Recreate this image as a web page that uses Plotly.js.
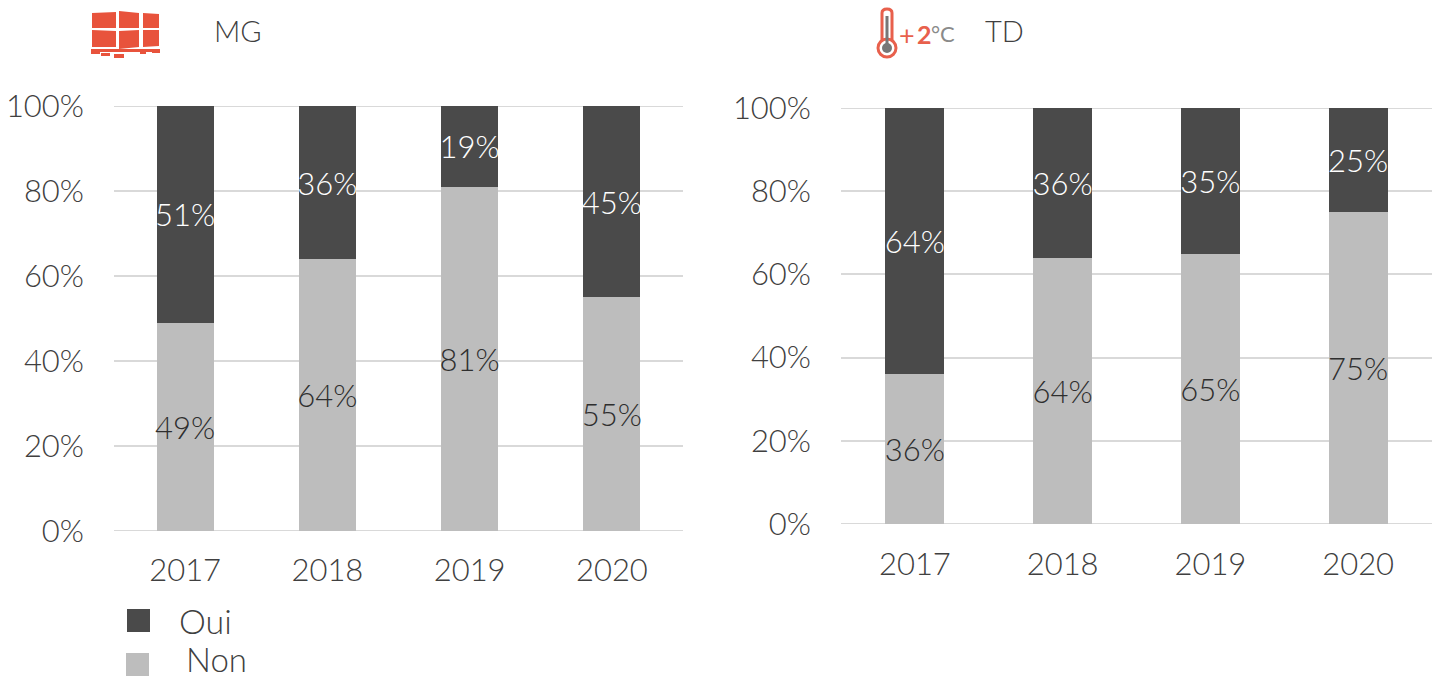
<!DOCTYPE html>
<html><head><meta charset="utf-8">
<script src="https://cdn.plot.ly/plotly-3.0.0.min.js"></script>
<style>html,body{margin:0;padding:0;background:#fff}#c{width:1439px;height:679px}</style>
</head><body><div id="c"></div>
<script>
const years = ['2017','2018','2019','2020'];
const mgOui = [51,36,19,45];
const mgNon = [49,64,81,55];
const tdOui = [64,36,35,25];
const tdNon = [36,64,65,75];
const tickVals = [0,20,40,60,80,100];
const tickText = ['0%','20%','40%','60%','80%','100%'];
const W=1439,H=679;
const dark='#4a4a4a', light='#bdbdbd', txt='#404040', red='#e8533c', grid='#d9d9d9';
const font='Lato, sans-serif';
const fz=31;
function bar(x,y,color,tcolor,xa,ya,name){
  return {type:'bar',x:x,y:y,name:name,xaxis:xa,yaxis:ya,showlegend:false,
    marker:{color:color,line:{width:0}},width:0.4,
    text:y.map(v=>v+'%'),textposition:'inside',insidetextanchor:'middle',constraintext:'none',textangle:0,
    textfont:{color:tcolor,size:fz,family:font,weight:300},hoverinfo:'skip'};
}
const data=[
  bar(years,mgNon,light,'#2e2e2e','x','y','Non'),
  bar(years,mgOui,dark,'#ffffff','x','y','Oui'),
  bar(years,tdNon,light,'#2e2e2e','x2','y2','Non'),
  bar(years,tdOui,dark,'#ffffff','x2','y2','Oui')
];
function xaxis(l,r,anchor,st){return {domain:[l/W,r/W],anchor:anchor,type:'category',showgrid:false,zeroline:false,showline:false,ticks:'',
  tickfont:{size:fz,color:txt,family:font,weight:300},ticklabelstandoff:st};}
function yaxis(t,b,anchor){return {domain:[1-b/H,1-t/H],anchor:anchor,range:[0,100],tickvals:tickVals,ticktext:tickText,
  showgrid:true,gridcolor:grid,gridwidth:2,zeroline:false,showline:false,ticks:'',
  tickfont:{size:fz,color:txt,family:font,weight:300},ticklabelstandoff:29};}
function px(x){return x/W} function py(y){return 1-y/H}
function poly(pts,fill){return {type:'path',xref:'paper',yref:'paper',fillcolor:fill,line:{width:0},
  path:'M'+pts.map(p=>px(p[0])+','+py(p[1])).join('L')+'Z'};}
function rect(x0,y0,x1,y1,fill,lc,lw){return {type:'rect',xref:'paper',yref:'paper',x0:px(x0),x1:px(x1),y0:py(y0),y1:py(y1),fillcolor:fill,line:lc?{color:lc,width:lw}:{width:0}};}
function circ(cx,cy,r,fill,lc,lw){return {type:'circle',xref:'paper',yref:'paper',x0:px(cx-r),x1:px(cx+r),y0:py(cy-r),y1:py(cy+r),fillcolor:fill,line:lc?{color:lc,width:lw}:{width:0}};}
function hline(xr,yr,v){return {type:'line',layer:'below',xref:xr+' domain',yref:yr,x0:0,x1:1,y0:v,y1:v,line:{color:grid,width:2}};}
function note(x,y,t,size,c,w){return {xref:'paper',yref:'paper',x:px(x),y:py(y),text:t,showarrow:false,xanchor:'left',yanchor:'middle',font:{size:size,color:c,family:font,weight:w||300}};}
const layout={width:W,height:H,margin:{l:0,r:0,t:0,b:0},paper_bgcolor:'#fff',plot_bgcolor:'#fff',barmode:'stack',showlegend:false,
  font:{family:font,color:txt},
  xaxis:xaxis(114,683,'y',18),yaxis:yaxis(106,531,'x'),
  xaxis2:xaxis(841,1432,'y2',19),yaxis2:yaxis(108,524,'x2'),
  annotations:[
    note(212,31,'MG',29,txt),
    note(983,31,'TD',29,txt),
    note(897,34,'+',27,'#e8604c',400),
    note(915,34,'2',25,'#e8604c',700),
    note(929,33,'°C',22,'#8a8a8a',400),
    note(177,620,'Oui',34,txt),
    note(184,659,'Non',33,txt)
  ],
  shapes:[
    hline('x','y',0),hline('x','y',100),hline('x2','y2',0),hline('x2','y2',100),
    rect(127,609,150,632,dark),
    rect(126,653,149,676,light),
    poly([[92,13],[116,12],[116,28],[92,28]],red),
    poly([[119,11],[139,13],[139,28],[119,28]],red),
    poly([[143,13],[159,14],[159,28],[143,28]],red),
    poly([[92,30],[116,31],[116,47],[92,47]],red),
    poly([[119,31],[139,30],[139,47],[119,49]],red),
    poly([[143,30],[159,30],[159,46],[143,47]],red),
    rect(91,49,160,52,red),
    rect(91,52,100,54,red),rect(101,53,110,56,red),rect(114,54,124,58,red),rect(140,52,146,54,red),rect(152,51,160,53,red),
    {type:'path',xref:'paper',yref:'paper',fillcolor:'#fff',line:{color:'#e8604c',width:3},
     path:'M'+px(882)+','+py(41)+'L'+px(882)+','+py(13)+'Q'+px(882)+','+py(9)+' '+px(887)+','+py(9)+'Q'+px(892)+','+py(9)+' '+px(892)+','+py(13)+'L'+px(892)+','+py(41)+'Z'},
    circ(887,48,9,'#fff','#e8604c',3),
    rect(885.5,16,888.5,45,'#777'),
    circ(887,48,5,'#777')
  ]
};
Plotly.newPlot('c',data,layout,{staticPlot:true,displayModeBar:false});
</script></body></html>
